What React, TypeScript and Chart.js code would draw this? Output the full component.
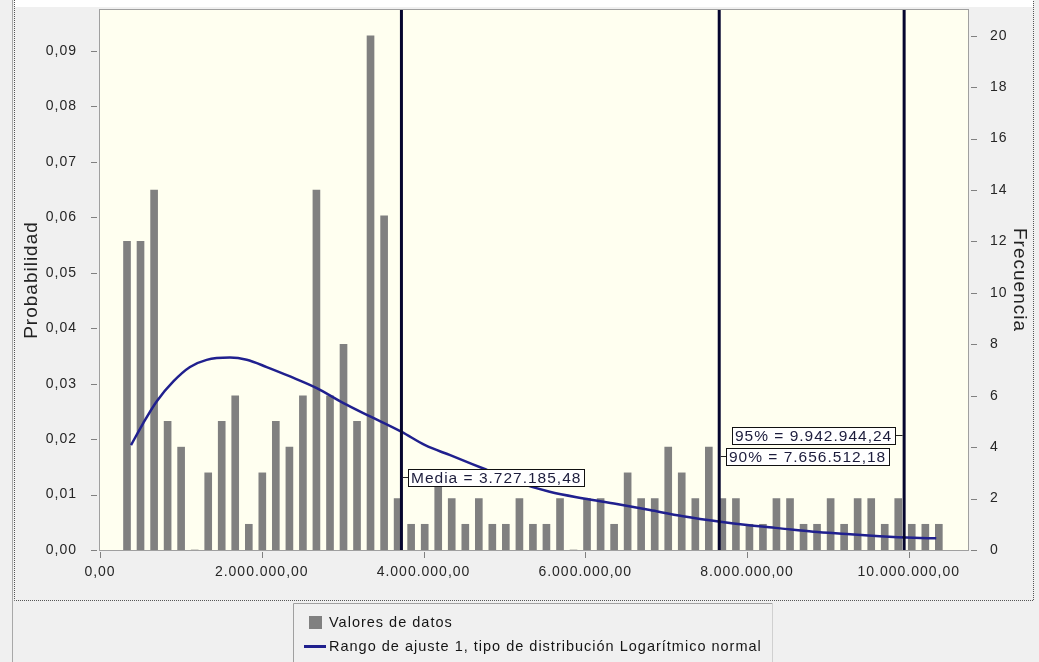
import React, { useEffect, useRef } from "react";
import { Chart, registerables } from "chart.js";

Chart.register(...registerables);

// ---------- data ----------
const binCenters = [
  334000, 501000, 669000, 836000, 1003000, 1171000, 1338000, 1505000, 1672000, 1840000,
  2007000, 2174000, 2342000, 2509000, 2676000, 2844000, 3011000, 3178000, 3345000, 3513000,
  3680000, 3847000, 4015000, 4182000, 4349000, 4517000, 4684000, 4851000, 5018000, 5186000,
  5353000, 5520000, 5688000, 5855000, 6022000, 6190000, 6357000, 6524000, 6691000, 6859000,
  7026000, 7193000, 7361000, 7528000, 7695000, 7863000, 8030000, 8197000, 8364000, 8532000,
  8699000, 8866000, 9034000, 9201000, 9368000, 9536000, 9703000, 9870000, 10037000, 10205000,
  10372000,
];
const frequencies = [
  12, 12, 14, 5, 4, 0, 3, 5, 6, 1,
  3, 5, 4, 6, 14, 6, 8, 5, 20, 13,
  2, 1, 1, 3, 2, 1, 2, 1, 1, 2,
  1, 1, 2, 0, 2, 2, 1, 3, 2, 2,
  4, 3, 2, 4, 2, 2, 1, 1, 2, 2,
  1, 1, 2, 1, 2, 2, 1, 2, 1, 1,
  1,
];
const curveX = [
  383000, 535000, 700000, 907000, 1113000, 1319000, 1607000, 1814000, 2061000, 2350000,
  2680000, 3010000, 3340000, 3730000, 4020000, 4330000, 4740000, 5150000, 5560000, 5980000,
  6390000, 6800000, 7210000, 7670000, 8000000, 8410000, 8820000, 9230000, 9640000, 10060000,
  10340000,
];
const curveProbability = [
  0.0189, 0.0229, 0.0268, 0.0304, 0.0330, 0.0343, 0.0347, 0.0343, 0.0330, 0.0313,
  0.0292, 0.0265, 0.0241, 0.0213, 0.0189, 0.0171, 0.0147, 0.0123, 0.0105, 0.0093,
  0.0083, 0.0072, 0.0061, 0.0051, 0.0045, 0.0039, 0.0033, 0.0029, 0.0025, 0.0022,
  0.0021,
];
const xTicks = [0, 2000000, 4000000, 6000000, 8000000, 10000000];
const probTicks = [0, 0.01, 0.02, 0.03, 0.04, 0.05, 0.06, 0.07, 0.08, 0.09];
const freqTicks = [0, 2, 4, 6, 8, 10, 12, 14, 16, 18, 20];
const markerValues = [3727185.48, 7656512.18, 9942944.24];
const markerLabels = ["Media = 3.727.185,48", "90% = 7.656.512,18", "95% = 9.942.944,24"];
const markerLabelProb = [0.0132, 0.0170, 0.0207];
const markerLabelSide = ["right", "right", "left"];
const legendLabels = [
  "Valores de datos",
  "Rango de ajuste 1, tipo de distribución Logarítmico normal",
];

const X_MAX = 10732600;
const PROB_MAX = 0.0974;
const FREQ_MAX = 21.0;

const FONT = '"Liberation Sans", Arial, sans-serif';
const BAR_COLOR = "#808080";
const CURVE_COLOR = "#20208e";
const MARKER_COLOR = "#06062e";

function fmt(v: number, decimals: number): string {
  const s = Math.abs(v).toFixed(decimals);
  const [i, d] = s.split(".");
  const grouped = i.replace(/\B(?=(\d{3})+(?!\d))/g, ".");
  return (v < 0 ? "-" : "") + grouped + (d !== undefined ? "," + d : "");
}

const decorPlugin = {
  id: "decor",
  beforeDraw(chart: any) {
    const { ctx, width, height, chartArea: a } = chart;
    ctx.save();
    ctx.fillStyle = "#f0f0f0";
    ctx.fillRect(0, 0, width, height);
    ctx.fillStyle = "#ffffff";
    ctx.fillRect(14, 0, 1019, 7);
    ctx.fillStyle = "#fffff0";
    ctx.fillRect(a.left, a.top, a.right - a.left, a.bottom - a.top);
    ctx.restore();
    (ctx as any).letterSpacing = "1px";
  },
  afterDatasetsDraw(chart: any) {
    const { ctx, chartArea: a, scales } = chart;
    const xs = scales.x;
    const ys = scales.y;
    ctx.save();
    // vertical marker lines
    markerValues.forEach((v) => {
      const px = xs.getPixelForValue(v);
      ctx.strokeStyle = MARKER_COLOR;
      ctx.lineWidth = 3;
      ctx.beginPath();
      ctx.moveTo(px, a.top);
      ctx.lineTo(px, a.bottom);
      ctx.stroke();
    });
    // marker labels
    ctx.font = "15.5px " + FONT;
    (ctx as any).letterSpacing = "1px";
    markerValues.forEach((v, i) => {
      const px = xs.getPixelForValue(v);
      const cy = Math.round(ys.getPixelForValue(markerLabelProb[i])) + 0.5;
      const tw = ctx.measureText(markerLabels[i]).width;
      const w = Math.round(tw + 6);
      const h = 17;
      const top = Math.round(cy - h / 2);
      const right = markerLabelSide[i] === "right";
      const left = right ? Math.round(px + 1.5 + 5) : Math.round(px - 1.5 - 8 - w);
      ctx.strokeStyle = "#222";
      ctx.lineWidth = 1;
      ctx.beginPath();
      if (right) {
        ctx.moveTo(px + 1.5, cy);
        ctx.lineTo(left, cy);
      } else {
        ctx.moveTo(left + w, cy);
        ctx.lineTo(px - 1.5, cy);
      }
      ctx.stroke();
      ctx.fillStyle = "#ffffff";
      ctx.fillRect(left + 0.5, top + 0.5, w, h);
      ctx.strokeStyle = "#111";
      ctx.strokeRect(left + 0.5, top + 0.5, w, h);
      ctx.fillStyle = "#1c1c3c";
      ctx.textAlign = "left";
      ctx.textBaseline = "middle";
      ctx.fillText(markerLabels[i], left + 3, cy + 1);
    });
    ctx.restore();
  },
  afterDraw(chart: any) {
    const { ctx, chartArea: a, scales, height } = chart;
    ctx.save();
    // plot border
    ctx.strokeStyle = "#a0a0a0";
    ctx.lineWidth = 1;
    ctx.strokeRect(a.left - 0.5, a.top - 0.5, a.right - a.left + 1, a.bottom - a.top + 1);
    // tick marks
    ctx.strokeStyle = "#808080";
    ctx.beginPath();
    scales.y.ticks.forEach((t: any) => {
      const py = Math.round(scales.y.getPixelForValue(t.value)) + 0.5;
      ctx.moveTo(a.left - 9, py);
      ctx.lineTo(a.left - 3, py);
    });
    scales.y1.ticks.forEach((t: any) => {
      const py = Math.round(scales.y1.getPixelForValue(t.value)) + 0.5;
      ctx.moveTo(a.right + 3, py);
      ctx.lineTo(a.right + 9, py);
    });
    scales.x.ticks.forEach((t: any) => {
      const px = Math.round(scales.x.getPixelForValue(t.value)) + 0.5;
      ctx.moveTo(px, a.bottom + 2);
      ctx.lineTo(px, a.bottom + 8);
    });
    ctx.stroke();

    // outer frame
    ctx.strokeStyle = "#a8a8a8";
    ctx.beginPath();
    ctx.moveTo(12.5, 0);
    ctx.lineTo(12.5, height);
    ctx.stroke();
    ctx.strokeStyle = "#555";
    ctx.setLineDash([1, 1]);
    ctx.beginPath();
    ctx.moveTo(14.5, 0);
    ctx.lineTo(14.5, 600.5);
    ctx.lineTo(1033.5, 600.5);
    ctx.lineTo(1033.5, 0);
    ctx.stroke();
    ctx.setLineDash([]);

    // legend
    const lx = 293, ly = 603, lr = 772;
    ctx.strokeStyle = "#a0a0a0";
    ctx.beginPath();
    ctx.moveTo(lx + 0.5, height);
    ctx.lineTo(lx + 0.5, ly + 0.5);
    ctx.lineTo(lr + 0.5, ly + 0.5);
    ctx.stroke();
    ctx.strokeStyle = "#d0d0d0";
    ctx.beginPath();
    ctx.moveTo(lr + 0.5, ly + 0.5);
    ctx.lineTo(lr + 0.5, height);
    ctx.stroke();

    ctx.fillStyle = BAR_COLOR;
    ctx.fillRect(309, 616, 13, 13);
    ctx.strokeStyle = CURVE_COLOR;
    ctx.lineWidth = 3;
    ctx.beginPath();
    ctx.moveTo(304, 646.5);
    ctx.lineTo(326, 646.5);
    ctx.stroke();

    ctx.font = "14.5px " + FONT;
    (ctx as any).letterSpacing = "1px";
    ctx.fillStyle = "#151515";
    ctx.textAlign = "left";
    ctx.textBaseline = "middle";
    ctx.fillText(legendLabels[0], 329, 623);
    ctx.fillText(legendLabels[1], 329, 647);
    ctx.restore();
  },
};

export default function App() {
  const canvasRef = useRef<HTMLCanvasElement | null>(null);

  useEffect(() => {
    if (!canvasRef.current) return;
    const tickFont = { family: FONT, size: 14 };
    const tickColor = "#262626";

    const chart = new Chart(canvasRef.current, {
      type: "bar",
      data: {
        datasets: [
          {
            type: "line",
            label: legendLabels[1],
            data: curveX.map((x, i) => ({ x, y: curveProbability[i] })),
            xAxisID: "x",
            yAxisID: "y",
            borderColor: CURVE_COLOR,
            borderWidth: 2.5,
            pointRadius: 0,
            cubicInterpolationMode: "monotone",
            fill: false,
            order: 1,
          } as any,
          {
            type: "bar",
            label: legendLabels[0],
            data: binCenters.map((x, i) => ({ x, y: frequencies[i] })),
            xAxisID: "x",
            yAxisID: "y1",
            backgroundColor: BAR_COLOR,
            borderWidth: 0,
            barThickness: 7,
            order: 2,
          } as any,
        ],
      },
      options: {
        responsive: false,
        animation: false,
        devicePixelRatio: 1,
        layout: { padding: { left: 14, right: 6, top: 10, bottom: 80 } },
        plugins: {
          legend: { display: false },
          tooltip: { enabled: false },
          title: { display: false },
        },
        scales: {
          x: {
            type: "linear",
            position: "bottom",
            min: 0,
            max: X_MAX,
            offset: false,
            grid: { display: false, offset: false },
            border: { display: false },
            afterBuildTicks: (s: any) => {
              s.ticks = xTicks.map((v) => ({ value: v }));
            },
            afterFit: (s: any) => {
              s.height = 32;
              s.paddingLeft = 0;
              s.paddingRight = 0;
            },
            ticks: {
              font: tickFont,
              color: tickColor,
              padding: 6,
              maxRotation: 0,
              autoSkip: false,
              callback: (v: any) => fmt(Number(v), 2),
            },
          },
          y: {
            type: "linear",
            position: "left",
            min: 0,
            max: PROB_MAX,
            grid: { display: false },
            border: { display: false },
            afterBuildTicks: (s: any) => {
              s.ticks = probTicks.map((v) => ({ value: v }));
            },
            afterFit: (s: any) => {
              s.width = 86;
              s.paddingTop = 0;
              s.paddingBottom = 0;
            },
            ticks: {
              font: tickFont,
              color: tickColor,
              padding: 15,
              callback: (v: any) => fmt(Number(v), 2),
            },
            title: {
              display: true,
              text: "Probabilidad",
              color: "#222",
              font: { family: FONT, size: 19 },
              padding: { top: 6, bottom: 0 },
            },
          },
          y1: {
            type: "linear",
            position: "right",
            min: 0,
            max: FREQ_MAX,
            grid: { display: false },
            border: { display: false },
            afterBuildTicks: (s: any) => {
              s.ticks = freqTicks.map((v) => ({ value: v }));
            },
            afterFit: (s: any) => {
              s.width = 65;
              s.paddingTop = 0;
              s.paddingBottom = 0;
            },
            ticks: {
              font: tickFont,
              color: tickColor,
              padding: 14,
              callback: (v: any) => String(v),
            },
            title: {
              display: true,
              text: "Frecuencia",
              color: "#222",
              font: { family: FONT, size: 19 },
              padding: { top: 2, bottom: 0 },
            },
          },
        },
      } as any,
      plugins: [decorPlugin as any],
    });

    return () => {
      chart.destroy();
    };
  }, []);

  return (
    <div
      style={{
        position: "fixed",
        left: 0,
        top: 0,
        width: 1039,
        height: 662,
        background: "#f0f0f0",
        overflow: "hidden",
      }}
    >
      <canvas
        ref={canvasRef}
        width={1039}
        height={662}
        style={{ display: "block", width: 1039, height: 662 }}
      />
    </div>
  );
}
